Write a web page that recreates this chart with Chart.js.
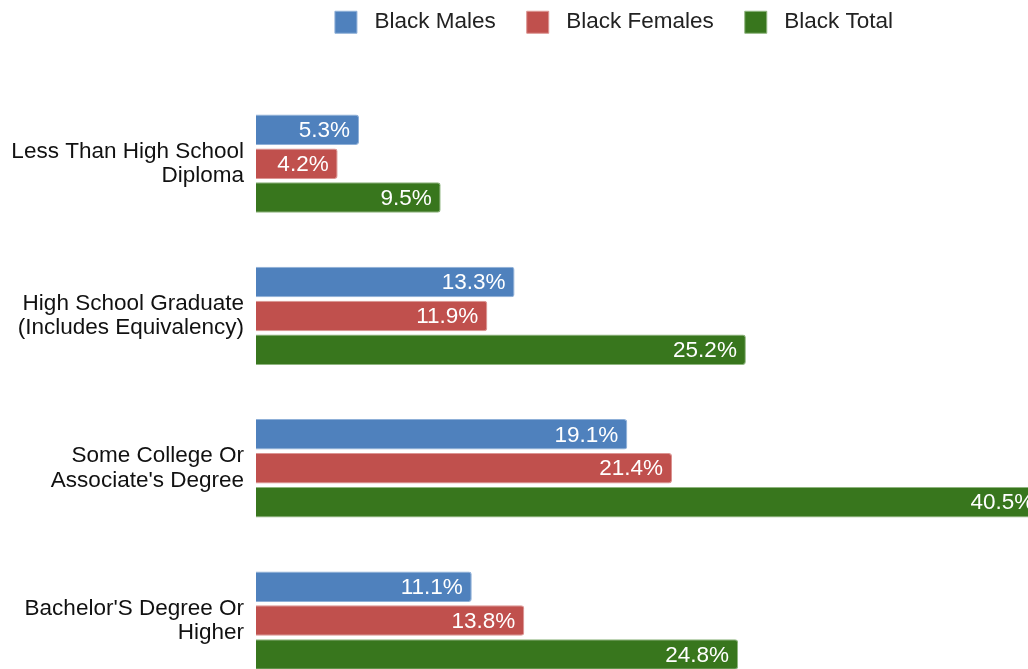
<!DOCTYPE html>
<html>
<head>
<meta charset="utf-8">
<script src="https://cdn.jsdelivr.net/npm/chart.js@4/dist/chart.umd.min.js"></script>
<style>
    html, body { margin: 0; padding: 0; overflow: hidden; background: #fff; }
    #eduChart { position: absolute; left: 0; top: 0; }
</style>
</head>
<body>
<canvas id="eduChart" width="1228" height="733"></canvas>
<script>
// Educational attainment by group (%)
const categories = [
    ['Less Than High School', 'Diploma'],
    ['High School Graduate', '(Includes Equivalency)'],
    ['Some College Or', "Associate's Degree"],
    ["Bachelor'S Degree Or", 'Higher']
];
const seriesNames = ['Black Males', 'Black Females', 'Black Total'];
const blackMales = [5.3, 13.3, 19.1, 11.1];
const blackFemales = [4.2, 11.9, 21.4, 13.8];
const blackTotal = [9.5, 25.2, 40.5, 24.8];

const fills = ['#4f81bd', '#c0504d', '#38761d'];
const edges = ['#8fb0d8', '#dc9593', '#8fb57f'];
const fontFamily = '"Liberation Sans", Arial, sans-serif';

// push the plot down a bit below the legend
const legendGap = {
    id: 'legendGap',
    beforeInit(chart) {
        const fit = chart.legend.fit;
        chart.legend.fit = function () {
            fit.bind(chart.legend)();
            this.height += 44;
        };
    }
};

// value labels inside the end of each bar
const barValues = {
    id: 'barValues',
    afterDatasetsDraw(chart) {
        const ctx = chart.ctx;
        ctx.save();
        ctx.font = '22.5px ' + fontFamily;
        ctx.fillStyle = '#ffffff';
        ctx.textAlign = 'right';
        ctx.textBaseline = 'middle';
        chart.data.datasets.forEach((ds, i) => {
            chart.getDatasetMeta(i).data.forEach((bar, j) => {
                ctx.fillText(ds.data[j].toFixed(1) + '%', bar.x - 9, bar.y + 1);
            });
        });
        ctx.restore();
    }
};

const ctx = document.getElementById('eduChart').getContext('2d');
const eduChart = new Chart(ctx, {
    type: 'bar',
    data: {
        labels: categories,
        datasets: [blackMales, blackFemales, blackTotal].map((vals, i) => ({
            label: seriesNames[i],
            data: vals,
            backgroundColor: fills[i],
            borderColor: edges[i],
            borderWidth: 1,
            borderRadius: 3,
            borderSkipped: 'start',
            categoryPercentage: 0.668,
            barPercentage: 0.9
        }))
    },
    options: {
        indexAxis: 'y',
        responsive: false,
        animation: false,
        layout: { padding: { left: 0, right: 0, top: -20, bottom: 3 } },
        plugins: {
            legend: {
                position: 'top',
                labels: {
                    boxWidth: 22,
                    boxHeight: 22,
                    padding: 31,
                    color: '#222',
                    font: { size: 22.5, family: fontFamily },
                    generateLabels(chart) {
                        return Chart.defaults.plugins.legend.labels.generateLabels(chart)
                            .map(item => Object.assign(item, { text: ' ' + item.text }));
                    }
                }
            },
            tooltip: { enabled: false }
        },
        scales: {
            x: {
                display: false,
                min: 0,
                max: 50
            },
            y: {
                grid: { display: false, tickLength: 0 },
                border: { display: false },
                afterFit(scale) { scale.width = 256; },
                ticks: {
                    color: '#111',
                    padding: 12,
                    font: { size: 22.5, family: fontFamily, lineHeight: 1.08 }
                }
            }
        }
    },
    plugins: [legendGap, barValues]
});
</script>
</body>
</html>
